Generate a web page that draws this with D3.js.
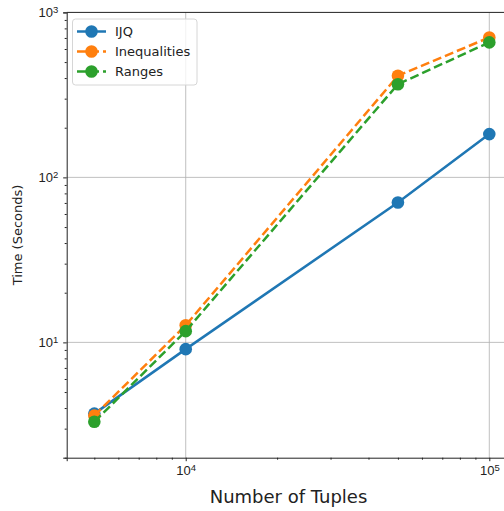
<!DOCTYPE html>
<html>
<head>
<meta charset="utf-8">
<script src="https://cdn.jsdelivr.net/npm/d3@7"></script>
<style>
  body { margin: 0; background: #fff; }
  svg { display: block; font-family: "DejaVu Sans", sans-serif; }
</style>
</head>
<body>
<script>
// data
var tuples = [5000, 10000, 50000, 100000];
var ijq = [3.7, 9.1, 70.5, 183];
var inequalities = [3.6, 12.7, 413, 705];
var ranges = [3.3, 11.7, 367, 658];
var seriesNames = ["IJQ", "Inequalities", "Ranges"];
var xMajor = [1e4, 1e5];
var yMajor = [10, 100, 1000];

var w = 504, h = 511;
var plotL = 66.7, plotR = 525, plotT = 12.4, plotB = 457.7;

var colors = ["#1f77b4", "#ff7f0e", "#2ca02c"];
var dashes = [null, "9,4", "9,4"];

var series = [ijq, inequalities, ranges].map(function(vals, i) {
    return { name: seriesNames[i], color: colors[i], dash: dashes[i],
             pts: vals.map(function(v, j) { return [tuples[j], v]; }) };
});

var svg = d3.select("body").append("svg")
    .attr("width", w)
    .attr("height", h);

// x: 10^4 at 185.7, 10^5 at 489.3
var x = d3.scaleLog().domain([4055, 1e5 * Math.pow(10, (plotR - 489.3) / 303.6)]).range([plotL, plotR]);
var y = d3.scaleLog().domain([2, 1000]).range([plotB, plotT]);

// minor tick values
var xMinor = [], yMinor = [];
[1e3, 1e4, 1e5].forEach(function(d) {
    for (var k = 2; k <= 9; k++) {
        var v = d * k;
        if (v >= x.domain()[0] && v <= x.domain()[1]) xMinor.push(v);
    }
});
[1, 10, 100].forEach(function(d) {
    for (var k = 2; k <= 9; k++) {
        var v = d * k;
        if (v >= 2 && v < 1000) yMinor.push(v);
    }
});

// grid
svg.append("g").selectAll("line")
    .data(xMajor).enter().append("line")
    .attr("x1", function(d) { return x(d); })
    .attr("x2", function(d) { return x(d); })
    .attr("y1", plotT).attr("y2", plotB)
    .attr("stroke", "#b0b0b0").attr("stroke-width", 0.8);
svg.append("g").selectAll("line")
    .data(yMajor.filter(function(d) { return d < 1000; })).enter().append("line")
    .attr("y1", function(d) { return y(d); })
    .attr("y2", function(d) { return y(d); })
    .attr("x1", plotL).attr("x2", plotR)
    .attr("stroke", "#b0b0b0").attr("stroke-width", 0.8);

// axes
function supLabel(sel) {
    sel.each(function(d) {
        var t = d3.select(this).text("");
        t.append("tspan").text("10");
        t.append("tspan").attr("dy", "-0.45em").attr("font-size", "9.5px").text(Math.round(Math.log10(d)));
    });
}

var xAxis = svg.append("g").attr("transform", "translate(0," + plotB + ")")
    .call(d3.axisBottom(x).tickValues(xMajor).tickSize(3.5).tickPadding(5).tickFormat(function() { return ""; }));
xAxis.selectAll(".tick text").attr("font-size", "13px").attr("fill", "#222").call(supLabel);
svg.append("g").attr("transform", "translate(0," + plotB + ")")
    .call(d3.axisBottom(x).tickValues(xMinor).tickSize(2).tickFormat(""))
    .call(function(g) { g.select(".domain").remove(); });

var yAxis = svg.append("g").attr("transform", "translate(" + plotL + ",0)")
    .call(d3.axisLeft(y).tickValues(yMajor).tickSize(3.5).tickPadding(5).tickFormat(function() { return ""; }));
yAxis.selectAll(".tick text").attr("font-size", "13px").attr("fill", "#222").call(supLabel);
svg.append("g").attr("transform", "translate(" + plotL + ",0)")
    .call(d3.axisLeft(y).tickValues(yMinor).tickSize(2).tickFormat(""))
    .call(function(g) { g.select(".domain").remove(); });

svg.selectAll(".domain").attr("stroke", "#222");
svg.selectAll(".tick line").attr("stroke", "#222");

// top / right spines
svg.append("line").attr("x1", plotL).attr("x2", plotR).attr("y1", plotT).attr("y2", plotT)
    .attr("stroke", "#222").attr("stroke-width", 1);
svg.append("line").attr("x1", plotR).attr("x2", plotR).attr("y1", plotT).attr("y2", plotB)
    .attr("stroke", "#222").attr("stroke-width", 1);

// lines + markers
var line = d3.line()
    .x(function(d) { return x(d[0]); })
    .y(function(d) { return y(d[1]); });

series.forEach(function(s) {
    svg.append("path")
        .datum(s.pts)
        .attr("d", line)
        .attr("fill", "none")
        .attr("stroke", s.color)
        .attr("stroke-width", 2.5)
        .attr("stroke-dasharray", s.dash);
    svg.append("g").selectAll("circle")
        .data(s.pts).enter().append("circle")
        .attr("cx", function(d) { return x(d[0]); })
        .attr("cy", function(d) { return y(d[1]); })
        .attr("r", 6.3)
        .attr("fill", s.color);
});

// labels
svg.append("text")
    .attr("x", 288.5).attr("y", 503)
    .attr("text-anchor", "middle")
    .attr("font-size", "18px")
    .attr("fill", "#222")
    .text("Number of Tuples");
svg.append("text")
    .attr("transform", "translate(22,235) rotate(-90)")
    .attr("text-anchor", "middle")
    .attr("font-size", "13px")
    .attr("fill", "#222")
    .text("Time (Seconds)");

// legend
var lg = svg.append("g");
lg.append("rect")
    .attr("x", 72.5).attr("y", 19).attr("width", 124.5).attr("height", 66)
    .attr("rx", 3).attr("fill", "#fff").attr("fill-opacity", 0.8)
    .attr("stroke", "#d6d6d6");
series.forEach(function(s, i) {
    var ly = 31.5 + i * 20;
    lg.append("line")
        .attr("x1", 77).attr("x2", 106).attr("y1", ly).attr("y2", ly)
        .attr("stroke", s.color).attr("stroke-width", 2.5)
        .attr("stroke-dasharray", s.dash);
    lg.append("circle").attr("cx", 91.5).attr("cy", ly).attr("r", 6.3).attr("fill", s.color);
    lg.append("text")
        .attr("x", 115).attr("y", ly + 4.5)
        .attr("font-size", "13px").attr("fill", "#222")
        .text(s.name);
});
</script>
</body>
</html>
